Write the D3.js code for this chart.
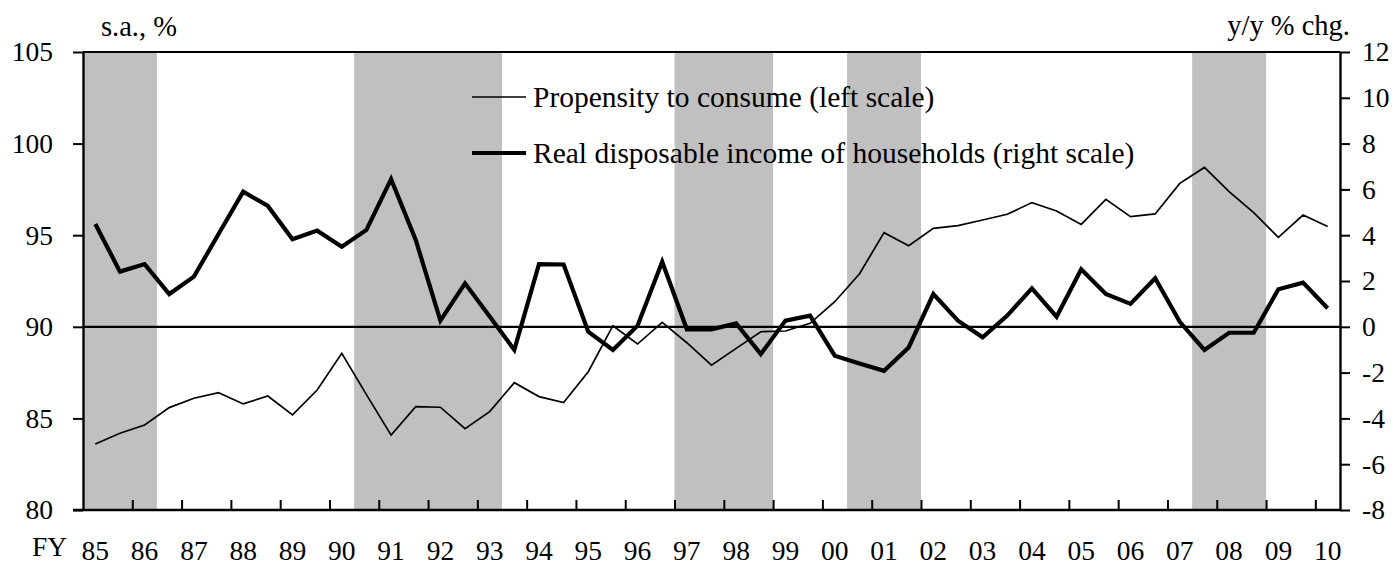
<!DOCTYPE html>
<html>
<head>
<meta charset="utf-8">
<script src="https://cdn.jsdelivr.net/npm/d3@7"></script>
<style>
  html, body { margin: 0; padding: 0; background: #fff; }
  svg { display: block; }
  text { font-family: "Liberation Serif", "Times New Roman", "DejaVu Serif", serif; fill: #000; }
</style>
</head>
<body>
<svg id="chart" width="1394" height="567"></svg>
<script>
// ---- data ----
const yearLabels = ["85","86","87","88","89","90","91","92","93","94","95","96","97","98","99","00","01","02","03","04","05","06","07","08","09","10"];
const firstFY = 1985;
// Half-yearly observations (FY H1, H2) from FY1985 H1 to FY2010 H1
const propensity = [83.60, 84.19, 84.64, 85.59, 86.10, 86.40, 85.79, 86.22, 85.19, 86.55,
  88.55, 86.30, 84.09, 85.64, 85.61, 84.44, 85.37, 86.95, 86.19, 85.86,
  87.55, 90.06, 89.06, 90.24, 89.13, 87.91, 88.82, 89.73, 89.77, 90.19,
  91.37, 92.88, 95.14, 94.43, 95.37, 95.52, 95.83, 96.14, 96.78, 96.32,
  95.59, 96.96, 96.01, 96.16, 97.83, 98.70, 97.38, 96.23, 94.88, 96.10, 95.47];
const income = [4.49, 2.41, 2.74, 1.43, 2.19, 4.05, 5.90, 5.28, 3.82, 4.20,
  3.50, 4.23, 6.45, 3.79, 0.27, 1.90, 0.45, -1.01, 2.74, 2.72,
  -0.21, -1.01, 0.05, 2.84, -0.11, -0.11, 0.15, -1.19, 0.27, 0.49,
  -1.26, -1.60, -1.92, -0.90, 1.43, 0.27, -0.46, 0.49, 1.68, 0.44,
  2.51, 1.43, 1.00, 2.12, 0.22, -1.01, -0.26, -0.26, 1.64, 1.93, 0.81];
// Shaded periods (recessions), in fiscal-year units
const shadeStart = [1985.0, 1990.5, 1997.0, 2000.5, 2007.5];
const shadeEnd   = [1986.5, 1993.5, 1999.0, 2002.0, 2009.0];
const leftTicks = [80, 85, 90, 95, 100, 105];
const rightTicks = [-8, -6, -4, -2, 0, 2, 4, 6, 8, 10, 12];
const seriesNames = ["Propensity to consume (left scale)", "Real disposable income of households (right scale)"];

// ---- layout ----
const svg = d3.select("#chart");
const L = 83, R = 1340, T = 52, B = 510;
const FS = 27.5, FSU = 28.5, FSL = 29.5;

const x = d3.scaleLinear().domain([firstFY, firstFY + propensity.length / 2]).range([L, R]);
const yL = d3.scaleLinear().domain([80, 105]).range([B, T]);
const yR = d3.scaleLinear().domain([-8, 12]).range([B, T]);
const px = i => x(firstFY + i / 2 + 0.25);

// shading
svg.append("g").selectAll("rect").data(shadeStart).join("rect")
  .attr("x", (d) => x(d))
  .attr("width", (d, i) => x(shadeEnd[i]) - x(d))
  .attr("y", T).attr("height", B - T)
  .attr("fill", "#c0c0c0");

// zero line (right scale)
svg.append("line")
  .attr("x1", L).attr("x2", R)
  .attr("y1", yR(0)).attr("y2", yR(0))
  .attr("stroke", "#000").attr("stroke-width", 2.2);

// top frame
svg.append("line").attr("x1", L).attr("x2", R).attr("y1", T).attr("y2", T)
  .attr("stroke", "#000").attr("stroke-width", 2);

// lines
const lineL = d3.line().x((d, i) => px(i)).y(d => yL(d));
const lineR = d3.line().x((d, i) => px(i)).y(d => yR(d));
svg.append("path").datum(propensity).attr("d", lineL)
  .attr("fill", "none").attr("stroke", "#000").attr("stroke-width", 1.7).attr("stroke-linejoin", "miter");
svg.append("path").datum(income).attr("d", lineR)
  .attr("fill", "none").attr("stroke", "#000").attr("stroke-width", 4.2).attr("stroke-linejoin", "miter");

// axes
function styleAxis(g) {
  g.attr("font-family", null);
  g.selectAll(".domain").attr("stroke", "#000").attr("stroke-width", 2.4);
  g.selectAll(".tick line").attr("stroke", "#000").attr("stroke-width", 2);
  g.selectAll("text").style("font-size", FS + "px").attr("fill", "#000");
}
const gL = svg.append("g").attr("transform", `translate(${L},0)`)
  .call(d3.axisLeft(yL).tickValues(leftTicks).tickSize(10).tickSizeOuter(0).tickPadding(20).tickFormat(d => String(d)));
styleAxis(gL);
const gR = svg.append("g").attr("transform", `translate(${R},0)`)
  .call(d3.axisRight(yR).tickValues(rightTicks).tickSize(10).tickSizeOuter(0).tickPadding(12).tickFormat(d => String(d)));
styleAxis(gR);

const tickYears = d3.range(1, yearLabels.length).map(k => firstFY + k);
const gB = svg.append("g").attr("transform", `translate(0,${B})`)
  .call(d3.axisBottom(x).tickValues(tickYears).tickSize(-10).tickSizeOuter(0).tickFormat(""));
styleAxis(gB);
gB.select(".domain").attr("d", `M${L - 10},0H${R}`);

// x labels at first half of each FY
svg.append("g").selectAll("text").data(yearLabels).join("text")
  .attr("x", (d, k) => x(firstFY + k + 0.25))
  .attr("y", 560)
  .attr("text-anchor", "middle")
  .style("font-size", FS + "px")
  .text(d => d);
svg.append("text").attr("x", 32).attr("y", 556).style("font-size", FS + "px").text("FY");

// unit labels
svg.append("text").attr("x", 101).attr("y", 36).style("font-size", FSU + "px").text("s.a., %");
svg.append("text").attr("x", 1350).attr("y", 35).attr("text-anchor", "end").style("font-size", FSU + "px").text("y/y % chg.");

// legend
const legY = [97, 153];
const legW = [1.7, 4.2];
const lg = svg.append("g");
seriesNames.forEach((name, i) => {
  lg.append("line").attr("x1", 472).attr("x2", 526).attr("y1", legY[i]).attr("y2", legY[i])
    .attr("stroke", "#000").attr("stroke-width", legW[i]);
  lg.append("text").attr("x", 533).attr("y", legY[i] + 10).style("font-size", FSL + "px").text(name);
});
</script>
</body>
</html>
